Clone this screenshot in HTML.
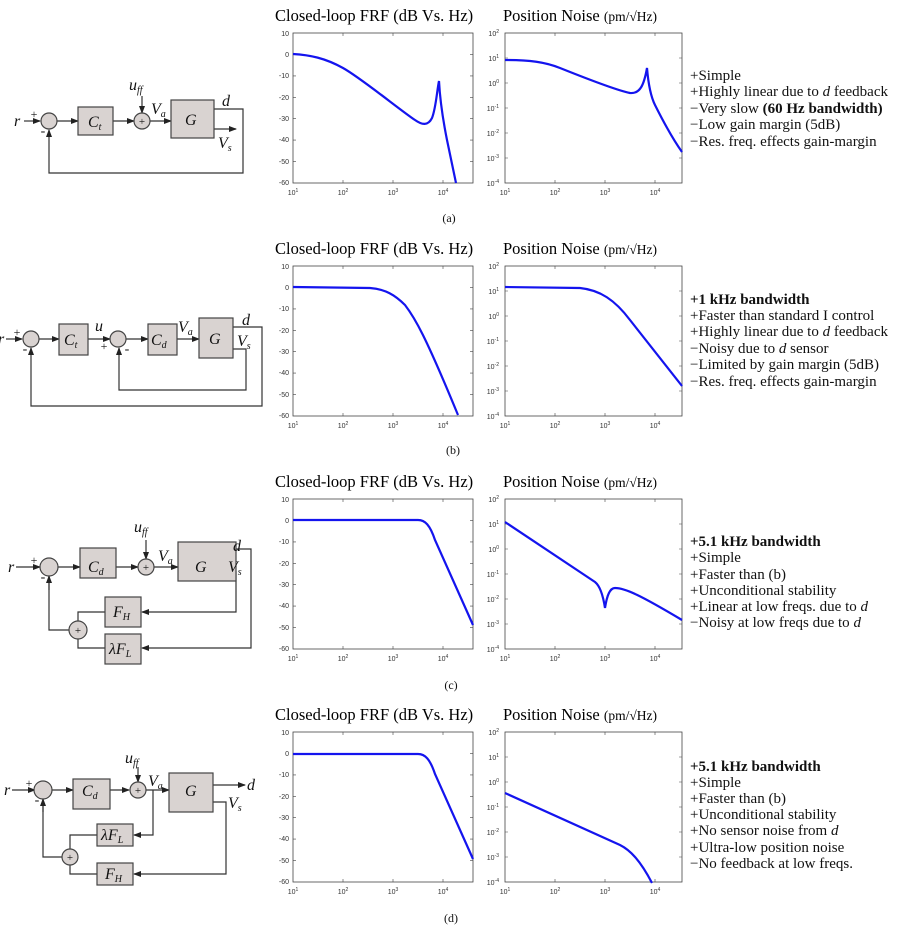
<!DOCTYPE html>
<html><head><meta charset="utf-8"><style>
body{margin:0;background:#fff}
svg{display:block}
.t{font-family:"Liberation Serif",serif}
.k{font-family:"Liberation Sans",sans-serif;font-size:7px;fill:#333}
.m{font-family:"Liberation Serif",serif;font-style:italic}
</style></head><body>
<svg width="898" height="927" viewBox="0 0 898 927" xmlns="http://www.w3.org/2000/svg">
<defs>
<marker id="ar" markerWidth="8" markerHeight="6" refX="7" refY="3" orient="auto" markerUnits="userSpaceOnUse"><path d="M0,0L8,3L0,6z" fill="#222"/></marker>
</defs>

<g id="axes">
<g transform="translate(0,33)">
<text class="t" x="275" y="-12" font-size="16.5">Closed-loop FRF (dB Vs. Hz)</text>
<text class="t" x="503" y="-12" font-size="16.5">Position Noise <tspan font-size="13.5">(pm/√Hz)</tspan></text>
<rect x="293" y="0" width="180" height="150" fill="none" stroke="#444" stroke-width="0.8"/>
<rect x="505" y="0" width="177" height="150" fill="none" stroke="#444" stroke-width="0.8"/>
<g class="k" text-anchor="end">
<text x="289" y="3">10</text><text x="289" y="24">0</text><text x="289" y="45">-10</text><text x="289" y="67">-20</text><text x="289" y="88">-30</text><text x="289" y="109">-40</text><text x="289" y="131">-50</text><text x="289" y="152">-60</text>
<text x="499" y="3">10<tspan dy="-3" font-size="5">2</tspan></text><text x="499" y="28">10<tspan dy="-3" font-size="5">1</tspan></text><text x="499" y="53">10<tspan dy="-3" font-size="5">0</tspan></text><text x="499" y="78">10<tspan dy="-3" font-size="5">-1</tspan></text><text x="499" y="103">10<tspan dy="-3" font-size="5">-2</tspan></text><text x="499" y="128">10<tspan dy="-3" font-size="5">-3</tspan></text><text x="499" y="153">10<tspan dy="-3" font-size="5">-4</tspan></text>
</g>
<g class="k" text-anchor="middle">
<text x="293" y="162">10<tspan dy="-3" font-size="5">1</tspan></text><text x="343" y="162">10<tspan dy="-3" font-size="5">2</tspan></text><text x="393" y="162">10<tspan dy="-3" font-size="5">3</tspan></text><text x="443" y="162">10<tspan dy="-3" font-size="5">4</tspan></text>
<text x="505" y="162">10<tspan dy="-3" font-size="5">1</tspan></text><text x="555" y="162">10<tspan dy="-3" font-size="5">2</tspan></text><text x="605" y="162">10<tspan dy="-3" font-size="5">3</tspan></text><text x="655" y="162">10<tspan dy="-3" font-size="5">4</tspan></text>
</g>
<path stroke="#444" stroke-width="0.6" d="M293,21.4h3M293,42.9h3M293,64.3h3M293,85.7h3M293,107.1h3M293,128.6h3M473,21.4h-3M473,42.9h-3M473,64.3h-3M473,85.7h-3M473,107.1h-3M473,128.6h-3M343,150v-3M393,150v-3M443,150v-3M343,0v3M393,0v3M443,0v3M505,25h3M505,50h3M505,75h3M505,100h3M505,125h3M682,25h-3M682,50h-3M682,75h-3M682,100h-3M682,125h-3M555,150v-3M605,150v-3M655,150v-3M555,0v3M605,0v3M655,0v3"/>
</g>
</g>
<use href="#axes" y="233"/>
<use href="#axes" y="466"/>
<use href="#axes" y="699"/>

<g fill="none" stroke="#1414ee" stroke-width="2.2">
<path d="M293,54 C310,55 325,58 343,68 S400,110 415,120 C422,125 428,126 432,118 C436,108 437,90 439,81 C440,100 443,120 447,140 L456,183"/>
<path d="M505,60 C530,60 545,62 560,68 S615,90 630,93 C640,94 644,85 647,68 C648,80 650,95 655,105 S670,135 682,152"/>
<path d="M293,287 L370,288 C385,289 395,295 405,305 C415,318 425,335 458,415"/>
<path d="M505,287 L580,288 C600,290 615,300 630,320 L682,386"/>
<path d="M293,520 L418,520 C425,520 430,525 435,540 L473,625"/>
<path d="M505,522 L595,582 C600,586 603,595 605,608 C607,595 610,588 615,588 C625,588 640,595 682,620"/>
<path d="M293,754 L418,754 C425,754 430,759 435,774 L473,859"/>
<path d="M505,793 L620,845 C630,850 640,860 652,883"/>
</g>

<g class="t" font-size="15" fill="#111">
<text x="690" y="80">+Simple</text>
<text x="690" y="96">+Highly linear due to <tspan class="m">d</tspan> feedback</text>
<text x="690" y="113">−Very slow <tspan font-weight="bold">(60 Hz bandwidth)</tspan></text>
<text x="690" y="129">−Low gain margin (5dB)</text>
<text x="690" y="146">−Res. freq. effects gain-margin</text>

<text x="690" y="304" font-weight="bold">+1 kHz bandwidth</text>
<text x="690" y="320">+Faster than standard I control</text>
<text x="690" y="336">+Highly linear due to <tspan class="m">d</tspan> feedback</text>
<text x="690" y="353">−Noisy due to <tspan class="m">d</tspan> sensor</text>
<text x="690" y="369">−Limited by gain margin (5dB)</text>
<text x="690" y="386">−Res. freq. effects gain-margin</text>

<text x="690" y="546" font-weight="bold">+5.1 kHz bandwidth</text>
<text x="690" y="562">+Simple</text>
<text x="690" y="579">+Faster than (b)</text>
<text x="690" y="595">+Unconditional stability</text>
<text x="690" y="611">+Linear at low freqs. due to <tspan class="m">d</tspan></text>
<text x="690" y="627">−Noisy at low freqs due to <tspan class="m">d</tspan></text>

<text x="690" y="771" font-weight="bold">+5.1 kHz bandwidth</text>
<text x="690" y="787">+Simple</text>
<text x="690" y="803">+Faster than (b)</text>
<text x="690" y="819">+Unconditional stability</text>
<text x="690" y="835">+No sensor noise from <tspan class="m">d</tspan></text>
<text x="690" y="852">+Ultra-low position noise</text>
<text x="690" y="868">−No feedback at low freqs.</text>
</g>
<g class="t" font-size="12" fill="#111" text-anchor="middle">
<text x="449" y="222">(a)</text>
<text x="453" y="454">(b)</text>
<text x="451" y="689">(c)</text>
<text x="451" y="922">(d)</text>
</g>

<g stroke="#333" stroke-width="1.2" fill="none">
<path d="M24,121H40" marker-end="url(#ar)"/>
<path d="M57,121H78" marker-end="url(#ar)"/>
<path d="M113,121H134" marker-end="url(#ar)"/>
<path d="M142,96V113" marker-end="url(#ar)"/>
<path d="M150,121H171" marker-end="url(#ar)"/>
<path d="M214,109H243V173H49V130" marker-end="url(#ar)"/>
<path d="M214,129H236" marker-end="url(#ar)"/>
<path d="M6,339H22" marker-end="url(#ar)"/>
<path d="M39,339H59" marker-end="url(#ar)"/>
<path d="M88,339H110" marker-end="url(#ar)"/>
<path d="M126,339H148" marker-end="url(#ar)"/>
<path d="M177,339H199" marker-end="url(#ar)"/>
<path d="M233,327H262V406H31V348" marker-end="url(#ar)"/>
<path d="M233,349H246V390H119V348" marker-end="url(#ar)"/>
<path d="M16,567H40" marker-end="url(#ar)"/>
<path d="M58,567H80" marker-end="url(#ar)"/>
<path d="M116,567H138" marker-end="url(#ar)"/>
<path d="M146,540V559" marker-end="url(#ar)"/>
<path d="M154,567H178" marker-end="url(#ar)"/>
<path d="M236,549H251V648H142" marker-end="url(#ar)"/>
<path d="M228,572H236V612H142" marker-end="url(#ar)"/>
<path d="M105,612H78V621M105,648H78V639M69,630H49V576"/>
<path d="M49,590V576" marker-end="url(#ar)"/>
<path d="M12,790H35" marker-end="url(#ar)"/>
<path d="M52,790H73" marker-end="url(#ar)"/>
<path d="M110,790H129" marker-end="url(#ar)"/>
<path d="M138,767V782" marker-end="url(#ar)"/>
<path d="M146,790H169" marker-end="url(#ar)"/>
<path d="M213,785H245" marker-end="url(#ar)"/>
<path d="M153,790V835H134" marker-end="url(#ar)"/>
<path d="M213,802H226V874H134" marker-end="url(#ar)"/>
<path d="M97,835H70V849M97,874H70V865M62,857H43V799"/>
<path d="M43,812V799" marker-end="url(#ar)"/>
</g>
<g stroke="#444" stroke-width="1.2" fill="#d9d3d1">
<circle cx="49" cy="121" r="8"/><rect x="78" y="107" width="35" height="28"/><circle cx="142" cy="121" r="8"/><rect x="171" y="100" width="43" height="38"/>
<circle cx="31" cy="339" r="8"/><rect x="59" y="324" width="29" height="31"/><circle cx="118" cy="339" r="8"/><rect x="148" y="324" width="29" height="31"/><rect x="199" y="318" width="34" height="40"/>
<circle cx="49" cy="567" r="9"/><rect x="80" y="548" width="36" height="30"/><circle cx="146" cy="567" r="8"/><rect x="178" y="542" width="58" height="39"/><rect x="105" y="597" width="36" height="30"/><rect x="105" y="634" width="36" height="30"/><circle cx="78" cy="630" r="9"/>
<circle cx="43" cy="790" r="9"/><rect x="73" y="779" width="37" height="30"/><circle cx="138" cy="790" r="8"/><rect x="169" y="773" width="44" height="39"/><rect x="97" y="824" width="36" height="22"/><rect x="97" y="863" width="36" height="22"/><circle cx="70" cy="857" r="8"/>
</g>
<g class="t" font-size="11" fill="#111" text-anchor="middle">
<text x="142" y="125">+</text><text x="146" y="571">+</text><text x="78" y="634">+</text><text x="138" y="794">+</text><text x="70" y="861">+</text>
<text x="34" y="118" font-size="12">+</text><text x="43" y="135" font-size="14">-</text>
<text x="17" y="336" font-size="12">+</text><text x="25" y="353" font-size="14">-</text><text x="104" y="350" font-size="12">+</text><text x="127" y="353" font-size="14">-</text>
<text x="34" y="564" font-size="12">+</text><text x="43" y="581" font-size="14">-</text>
<text x="29" y="787" font-size="12">+</text><text x="37" y="804" font-size="14">-</text>
</g>
<g class="m" font-size="16" fill="#111">
<text x="14" y="126">r</text><text x="88" y="127">C<tspan font-size="10" dy="3">t</tspan></text><text x="129" y="90">u<tspan font-size="10" dy="3">ff</tspan></text><text x="151" y="114">V<tspan font-size="10" dy="3">a</tspan></text><text x="185" y="125">G</text><text x="222" y="106">d</text><text x="218" y="148">V<tspan font-size="10" dy="3">s</tspan></text>
<text x="-2" y="344">r</text><text x="64" y="345">C<tspan font-size="10" dy="3">t</tspan></text><text x="95" y="331">u</text><text x="151" y="345">C<tspan font-size="10" dy="3">d</tspan></text><text x="178" y="332">V<tspan font-size="10" dy="3">a</tspan></text><text x="209" y="344">G</text><text x="242" y="325">d</text><text x="237" y="346">V<tspan font-size="10" dy="3">s</tspan></text>
<text x="8" y="572">r</text><text x="88" y="572">C<tspan font-size="10" dy="3">d</tspan></text><text x="134" y="532">u<tspan font-size="10" dy="3">ff</tspan></text><text x="158" y="561">V<tspan font-size="10" dy="3">a</tspan></text><text x="195" y="572">G</text><text x="233" y="551">d</text><text x="228" y="572">V<tspan font-size="10" dy="3">s</tspan></text><text x="113" y="617">F<tspan font-size="10" dy="3">H</tspan></text><text x="109" y="654">λF<tspan font-size="10" dy="3">L</tspan></text>
<text x="4" y="795">r</text><text x="82" y="796">C<tspan font-size="10" dy="3">d</tspan></text><text x="125" y="763">u<tspan font-size="10" dy="3">ff</tspan></text><text x="148" y="786">V<tspan font-size="10" dy="3">a</tspan></text><text x="185" y="796">G</text><text x="247" y="790">d</text><text x="228" y="808">V<tspan font-size="10" dy="3">s</tspan></text><text x="101" y="840">λF<tspan font-size="10" dy="3">L</tspan></text><text x="105" y="879">F<tspan font-size="10" dy="3">H</tspan></text>
</g>
</svg>
</body></html>
